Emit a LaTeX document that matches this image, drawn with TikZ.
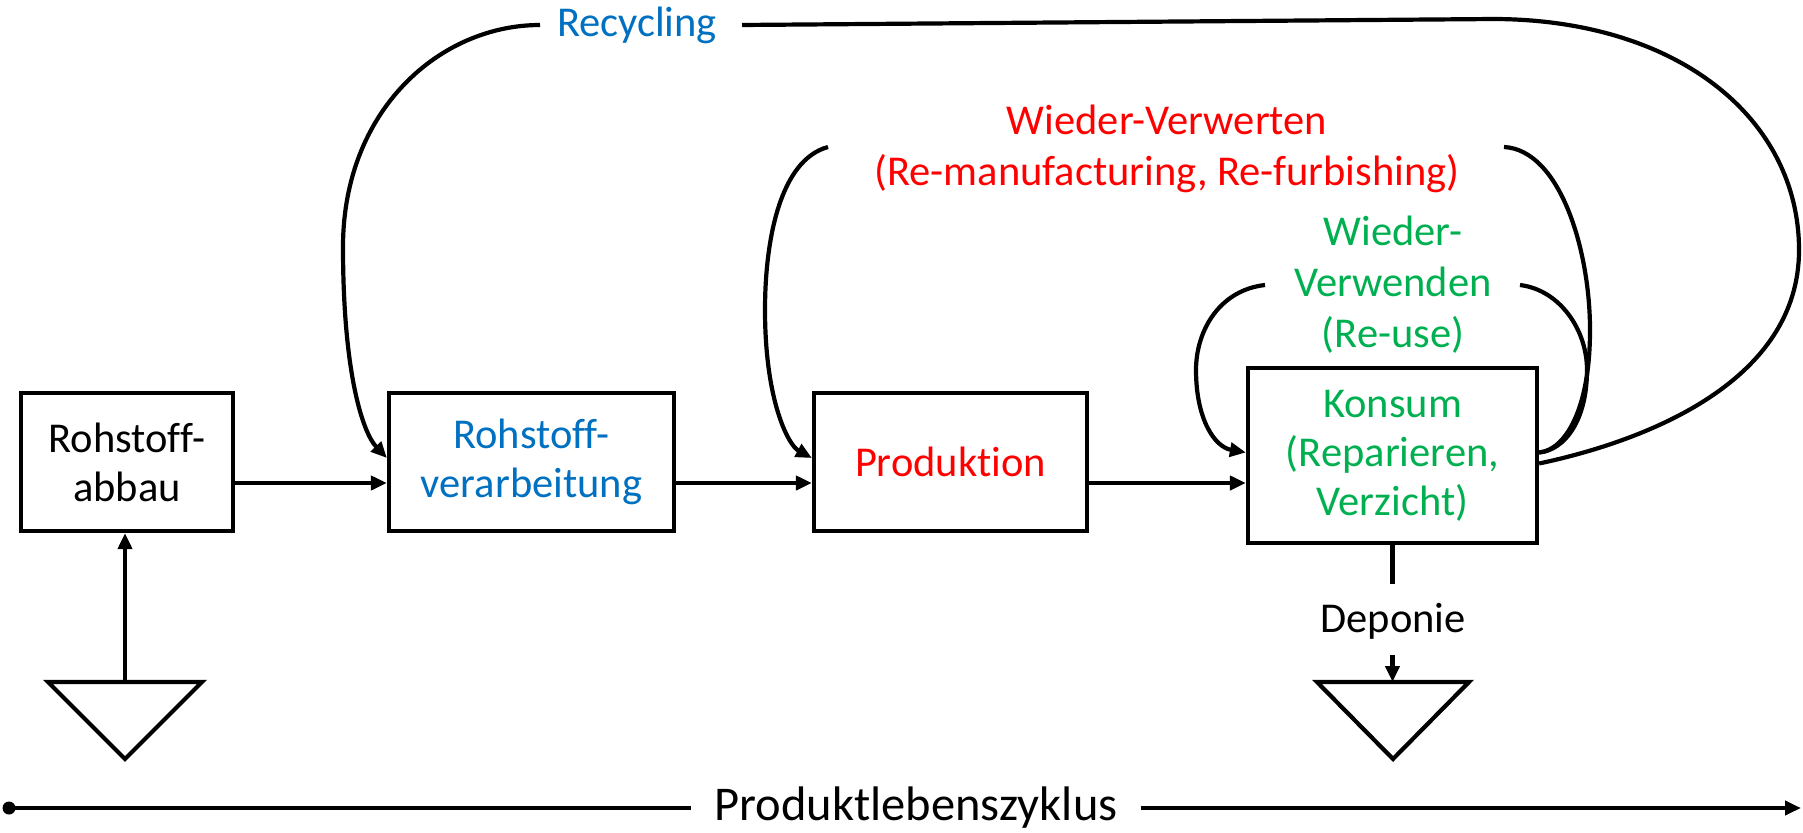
\documentclass[tikz,border=0pt]{standalone}
\usepackage{fontspec}
\setmainfont[Ligatures=NoCommon]{Carlito}
\usetikzlibrary{arrows.meta}
\definecolor{cblue}{HTML}{0070C0}
\definecolor{cred}{HTML}{FF0000}
\definecolor{cgreen}{HTML}{00B050}
\begin{document}
\begin{tikzpicture}[x=1pt,y=1pt,line width=4.2pt,line join=miter,
  box/.style={draw,line width=4.2pt,align=center,inner sep=0pt,font=\fontsize{42.5}{49}\selectfont},
  lbl/.style={align=center,inner sep=0pt,font=\fontsize{42.5}{51}\selectfont},
  arr/.style={-{Triangle[length=16pt,width=14pt]}}]
\useasboundingbox (0,0) rectangle (1803,-832);
% boxes
\node[box,minimum width=212,minimum height=138] (a) at (127,-462) {Rohstoff-\\abbau};
\node[box,minimum width=285,minimum height=138,text=cblue] (b) at (531.5,-462) {Rohstoff-\\verarbeitung};
\node[box,minimum width=273,minimum height=138,text=cred] (c) at (950.5,-462) {Produktion};
\node[box,minimum width=289,minimum height=175,text=cgreen] (d) at (1392.5,-455.5) {Konsum\\(Reparieren,\\Verzicht)};
% main arrows
\draw[arr] ([yshift=-21pt]a.east) -- ([yshift=-21pt]a.east -| b.west);
\draw[arr] ([yshift=-21pt]b.east) -- ([yshift=-21pt]b.east -| c.west);
\draw[arr] ([yshift=-21pt]c.east) -- ([yshift=-21pt]c.east -| d.west);
% labels
\node[lbl,text=cblue] (rec) at (637,-25) {Recycling};
\node[lbl,text=cred] (wvw) at (1167,-149) {Wieder-Verwerten\\(Re-manufacturing, Re-furbishing)};
\node[lbl,text=cgreen] (wvd) at (1393,-285) {Wieder-\\Verwenden\\(Re-use)};
% connector start points
\coordinate (rl) at (540,-25);
\coordinate (rr) at (742,-25);
\coordinate (rt) at (1495,-19);
\coordinate (wl) at (828,-147);
\coordinate (wr) at (1504,-147);
\coordinate (vl) at (1265,-285);
\coordinate (vr) at (1520,-285);
% recycling
\draw[arr] (rl) .. controls (440,-25) and (343,-110) .. (343,-247)
  .. controls (343,-370) and (362,-432) .. ([yshift=4pt]b.west);
\draw (rr) -- (rt) .. controls (1680,-20) and (1799,-120) .. (1799,-250)
  .. controls (1799,-380) and (1650,-440) .. ([yshift=-8pt]d.east);
% wieder-verwerten
\draw[arr] (wl) .. controls (780,-160) and (765,-240) .. (765,-310)
  .. controls (765,-400) and (788,-445) .. ([yshift=4pt]c.west);
\draw (wr) .. controls (1560,-150) and (1590,-250) .. (1590,-330)
  .. controls (1590,-410) and (1565,-450) .. ([yshift=3pt]d.east);
% wieder-verwenden
\draw[arr] (vl) .. controls (1220,-290) and (1196,-330) .. (1196,-370)
  .. controls (1196,-420) and (1215,-447) .. ([yshift=3pt]d.west);
\draw (vr) .. controls (1560,-290) and (1587,-330) .. (1587,-370)
  .. controls (1587,-420) and (1565,-450) .. ([yshift=3pt]d.east);
% left triangle
\coordinate (t1) at (125,-682);
\draw (48,-682) -- (202,-682) -- (125,-759) -- cycle;
\draw[arr] (t1) -- (t1 |- a.south);
% deponie
\coordinate (dp1) at (1392.5,-584);
\coordinate (dp2) at (1392.5,-655);
\coordinate (t2) at (1392.5,-682);
\node[lbl] (dep) at (1393,-621) {Deponie};
\draw (d.south) -- (dp1);
\draw[arr] (dp2) -- (t2);
\draw (1317,-682) -- (1469,-682) -- (1393,-759) -- cycle;
% axis
\coordinate (ax0) at (9,-808);
\coordinate (ax1) at (1801,-808);
\node[inner ysep=0pt,inner xsep=21pt,font=\fontsize{48.5}{56}\selectfont] (plz) at (916,-808) {Produktlebenszyklus};
\fill (ax0) circle (6.5);
\draw (ax0) -- (plz.west);
\draw[arr] (plz.east) -- (ax1);
\end{tikzpicture}
\end{document}
